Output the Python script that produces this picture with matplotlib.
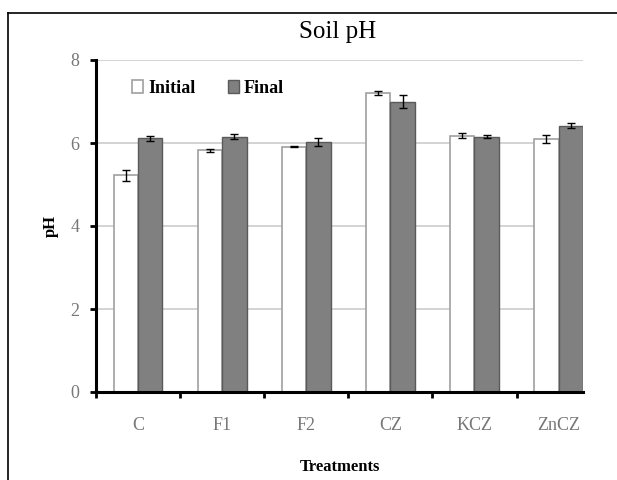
import numpy as np
import matplotlib
matplotlib.use("Agg")
import matplotlib.pyplot as plt
from matplotlib.lines import Line2D

# --- datos ---
treatments = ["C", "F1", "F2", "CZ", "KCZ", "ZnCZ"]
initial = [5.22, 5.82, 5.91, 7.20, 6.18, 6.09]
initial_err = [0.14, 0.04, 0.01, 0.05, 0.06, 0.10]
final = [6.11, 6.15, 6.02, 7.00, 6.15, 6.42]
final_err = [0.05, 0.06, 0.10, 0.16, 0.04, 0.05]

plt.rcParams['font.family'] = ['Liberation Serif', 'DejaVu Serif']

fig = plt.figure(figsize=(6.17, 4.80), dpi=100)
ax = fig.add_axes([96 / 617, 88 / 480, 487 / 617, 332 / 480])

x = np.arange(len(treatments))
w = 0.29
ax.bar(x - w / 2, initial, w, color="white", edgecolor="#a0a0a0", linewidth=1.2,
       yerr=initial_err, capsize=3, error_kw=dict(ecolor="black", elinewidth=1, capthick=1),
       label="Initial", zorder=2)
ax.bar(x + w / 2, final, w, color="#808080", edgecolor="#5a5a5a", linewidth=1.0,
       yerr=final_err, capsize=3, error_kw=dict(ecolor="black", elinewidth=1, capthick=1),
       label="Final", zorder=2)

ax.set_ylim(0, 8)
ax.set_xlim(-0.5, 5 + w)
ax.set_yticks([0, 2, 4, 6, 8])
ax.yaxis.grid(True, color="#cccccc", linewidth=1.2, zorder=0)
ax.set_axisbelow(True)

# ticks de grupo en los limites, etiquetas en el centro
ax.set_xticks(np.arange(-0.5, 5.0, 1.0))
ax.set_xticklabels([])
ax.set_xticks(x, minor=True)
ax.set_xticklabels(treatments, minor=True)
ax.tick_params(axis="x", which="major", direction="out", length=4, width=2, color="black")
ax.tick_params(axis="x", which="minor", length=0, pad=18, labelsize=13, labelcolor="#777777")
ax.tick_params(axis="y", direction="out", length=4, width=2, color="black",
               labelsize=13, labelcolor="#777777", pad=8)

for s in ["top", "right"]:
    ax.spines[s].set_visible(False)
ax.spines["left"].set_linewidth(2.2)
ax.spines["bottom"].set_linewidth(2.2)

ax.set_ylabel("pH", fontsize=12, fontweight="bold", labelpad=8)
ax.set_xlabel("Treatments", fontsize=12, fontweight="bold", labelpad=18)

fig.text(338 / 617, 448 / 480, "Soil pH", ha="center", va="center", fontsize=18,
         fontstretch="condensed")

ax.legend(loc="upper left", bbox_to_anchor=(0.04, 0.99), ncol=2, frameon=False,
          handlelength=0.6, handleheight=0.8, handletextpad=0.3, columnspacing=1.8,
          prop=dict(family="Liberation Serif", weight="bold", size=13))

# marco de la imagen
fig.add_artist(Line2D([8 / 617, 8 / 617], [0, 467 / 480], color="black", linewidth=1.2))
fig.add_artist(Line2D([8 / 617, 1], [467 / 480, 467 / 480], color="black", linewidth=1.2))

fig.savefig("out.png", dpi=100)
